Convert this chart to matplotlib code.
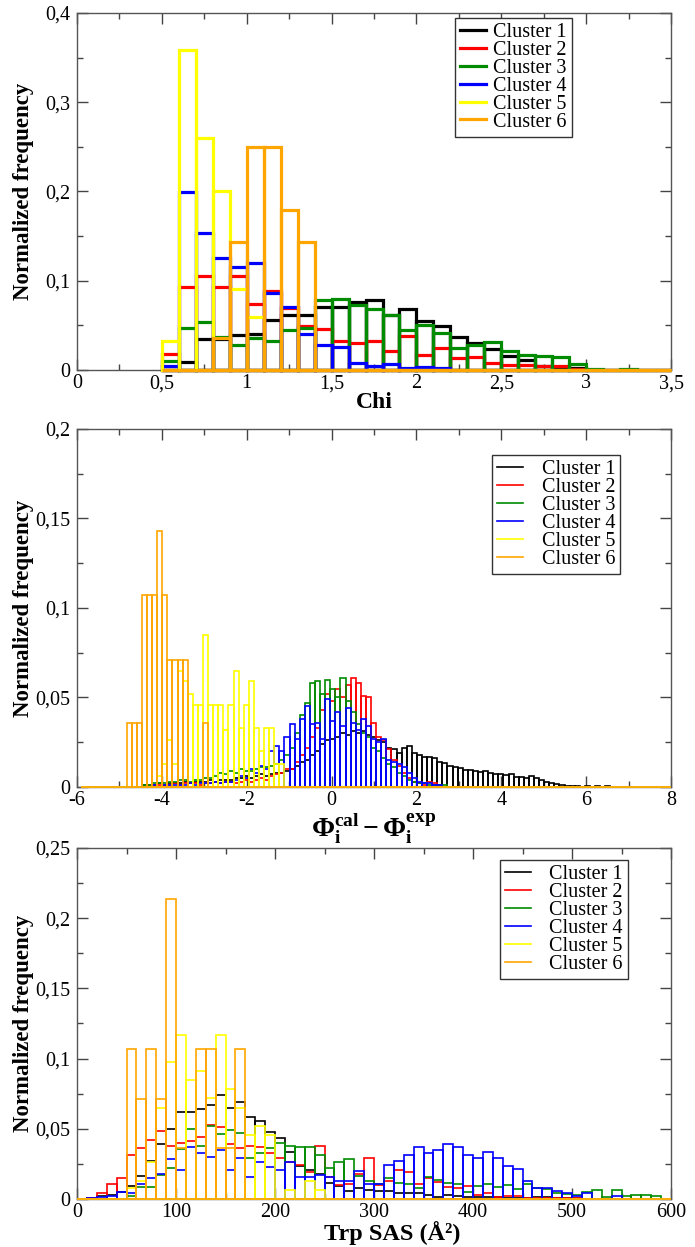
import numpy as np
import matplotlib.pyplot as plt
from matplotlib.ticker import MultipleLocator, FuncFormatter

plt.rcParams['font.family'] = ['Liberation Serif', 'DejaVu Serif']
plt.rcParams['mathtext.fontset'] = 'custom'
plt.rcParams['mathtext.rm'] = 'Liberation Serif'
plt.rcParams['mathtext.it'] = 'Liberation Serif:italic'
plt.rcParams['mathtext.bf'] = 'Liberation Serif:bold'

# -------------------------------------------------------
# Data (normalized frequency per bin)
# -------------------------------------------------------
cluster_names = ["Cluster 1", "Cluster 2", "Cluster 3", "Cluster 4", "Cluster 5", "Cluster 6"]
cluster_colors = ["#000000", "#ff0000", "#008b00", "#0000ff", "#ffff00", "#ffa500"]

# Panel 1: Chi, bins of 0.1 from 0.5 to 3.5
chi_start, chi_width = 0.5, 0.1
chi_c1 = [0.0, 0.009, 0.035, 0.035, 0.039, 0.040, 0.056, 0.062, 0.062, 0.071,
          0.071, 0.076, 0.078, 0.062, 0.068, 0.055, 0.049, 0.037, 0.030, 0.024,
          0.016, 0.011, 0.004, 0.003, 0.002, 0.0, 0.0, 0.0, 0.0, 0.0]
chi_c2 = [0.018, 0.093, 0.105, 0.093, 0.105, 0.074, 0.088, 0.070, 0.049, 0.046,
          0.033, 0.030, 0.033, 0.021, 0.038, 0.017, 0.025, 0.013, 0.015, 0.008,
          0.006, 0.006, 0.004, 0.004, 0.001, 0.0, 0.0, 0.0, 0.0, 0.0]
chi_c3 = [0.010, 0.047, 0.054, 0.037, 0.028, 0.036, 0.033, 0.045, 0.047, 0.078,
          0.079, 0.073, 0.068, 0.062, 0.045, 0.050, 0.041, 0.025, 0.028, 0.031,
          0.021, 0.017, 0.016, 0.015, 0.007, 0.001, 0.0, 0.001, 0.0, 0.0]
chi_c4 = [0.005, 0.199, 0.154, 0.125, 0.115, 0.120, 0.086, 0.071, 0.040, 0.028,
          0.026, 0.008, 0.005, 0.007, 0.002, 0.003, 0.002, 0.0, 0.0, 0.0,
          0.0, 0.0, 0.0, 0.0, 0.0, 0.0, 0.0, 0.0, 0.0, 0.0]
chi_c5 = [0.033, 0.358, 0.260, 0.201, 0.091, 0.059, 0.0, 0.0, 0.0, 0.0,
          0.0, 0.0, 0.0, 0.0, 0.0, 0.0, 0.0, 0.0, 0.0, 0.0,
          0.0, 0.0, 0.0, 0.0, 0.0, 0.0, 0.0, 0.0, 0.0, 0.0]
chi_c6 = [0.0, 0.0, 0.0, 0.036, 0.143, 0.250, 0.250, 0.179, 0.143, 0.0,
          0.0, 0.0, 0.0, 0.0, 0.0, 0.0, 0.0, 0.0, 0.0, 0.0,
          0.0, 0.0, 0.0, 0.0, 0.0, 0.0, 0.0, 0.0, 0.0, 0.0]

# Panel 2: Phi_cal - Phi_exp, bins of 0.12 starting at -4.83 (zero bins padded to the axis range)
phi_start, phi_width = -4.83, 0.12
phi_pad_left, phi_nbins = 9, 116
phi_c1 = [0, 0, 0, 0.001, 0.001, 0.001, 0.002, 0.001, 0.002, 0.002,
          0.002, 0.003, 0.002, 0.003, 0.003, 0.003, 0.004, 0.003, 0.004, 0.004,
          0.004, 0.005, 0.005, 0.006, 0.005, 0.006, 0.007, 0.006, 0.007, 0.008,
          0.008, 0.009, 0.010, 0.012, 0.014, 0.015, 0.018, 0.020, 0.024, 0.026,
          0.027, 0.028, 0.030, 0.029, 0.031, 0.030, 0.031, 0.029, 0.028, 0.026,
          0.025, 0.022, 0.021, 0.019, 0.0215, 0.023, 0.019, 0.018, 0.017, 0.0165,
          0.016, 0.014, 0.0132, 0.012, 0.011, 0.0105, 0.0095, 0.0095, 0.009, 0.0085,
          0.0088, 0.0077, 0.0073, 0.0075, 0.0068, 0.007, 0.0055, 0.0055, 0.0052, 0.006,
          0.005, 0.004, 0.0027, 0.0023, 0.0015, 0.0012, 0.0008, 0.0005, 0.0004, 0.0,
          0.0008, 0.0, 0.0005, 0.0, 0.0005]
phi_c2 = [0, 0, 0, 0, 0.001, 0.001, 0.001, 0.001, 0.001, 0.002,
          0.001, 0.002, 0.002, 0.002, 0.001, 0.002, 0.002, 0.003, 0.002, 0.003,
          0.003, 0.002, 0.003, 0.004, 0.003, 0.004, 0.005, 0.004, 0.006, 0.007,
          0.008, 0.010, 0.010, 0.014, 0.018, 0.022, 0.028, 0.033, 0.043, 0.052,
          0.048, 0.055, 0.050, 0.057, 0.061, 0.058, 0.051, 0.050, 0.036, 0.028,
          0.026, 0.021, 0.015, 0.012, 0.008, 0.005, 0.003, 0.002, 0.001, 0.003,
          0.002, 0.001]
phi_c3 = [0, 0, 0, 0.001, 0.001, 0.002, 0.002, 0.002, 0.003, 0.003,
          0.004, 0.004, 0.003, 0.004, 0.004, 0.005, 0.005, 0.006, 0.008, 0.007,
          0.009, 0.008, 0.010, 0.009, 0.009, 0.010, 0.011, 0.011, 0.012, 0.013,
          0.015, 0.018, 0.022, 0.030, 0.040, 0.047, 0.058, 0.059, 0.052, 0.060,
          0.055, 0.050, 0.061, 0.048, 0.042, 0.035, 0.030, 0.028, 0.022, 0.020,
          0.016, 0.013, 0.011, 0.008, 0.006, 0.004, 0.003, 0.002, 0.002, 0.001,
          0.001, 0.001, 0.001]
phi_c4 = [0, 0, 0, 0, 0, 0.001, 0, 0.001, 0.001, 0.001,
          0.001, 0.001, 0.002, 0.001, 0.002, 0.002, 0.002, 0.003, 0.002, 0.003,
          0.003, 0.004, 0.006, 0.005, 0.010, 0.008, 0.012, 0.010, 0.020, 0.023,
          0.020, 0.028, 0.035, 0.027, 0.038, 0.045, 0.035, 0.036, 0.027, 0.049,
          0.037, 0.042, 0.034, 0.044, 0.036, 0.032, 0.038, 0.034, 0.027, 0.025,
          0.027, 0.015, 0.014, 0.013, 0.011, 0.008, 0.005, 0.003, 0.002, 0.002,
          0.001, 0.001]
phi_c5 = [0, 0, 0, 0, 0, 0, 0.006, 0.013, 0.026, 0.013,
          0.065, 0.059, 0.052, 0.046, 0.046, 0.085, 0.046, 0.046, 0.046, 0.032,
          0.046, 0.065, 0.033, 0.046, 0.059, 0.033, 0.020, 0.033, 0.033, 0.013,
          0.013]
phi_c6 = [0.036, 0.036, 0.036, 0.107, 0.107, 0.107, 0.143, 0.107, 0.071, 0.071,
          0.071, 0.071, 0, 0, 0, 0.036]

# Panel 3: Trp SAS, bins of 10 from 0 to 600
sas_start, sas_width = 0, 10
sas_c1 = [0.0003, 0.0005, 0.0024, 0.003, 0.005, 0.0095, 0.0167, 0.027, 0.039, 0.0498,
          0.0617, 0.0617, 0.0643, 0.0667, 0.0738, 0.0648, 0.069, 0.0583, 0.0552, 0.0476,
          0.0436, 0.0338, 0.0236, 0.0207, 0.0176, 0.0117, 0.0093, 0.0057, 0.0076, 0.0064,
          0.0057, 0.006, 0.004, 0.004, 0.004, 0.0029, 0.0017, 0.0029, 0.002, 0.0015,
          0.0017, 0.0015, 0.0012, 0.001, 0.001, 0.001, 0.0012, 0.0015, 0.001, 0.001,
          0.0005, 0.0003, 0, 0, 0, 0, 0, 0, 0, 0]
sas_c2 = [0, 0.0005, 0.004, 0.011, 0.0148, 0.031, 0.036, 0.0417, 0.0486, 0.038,
          0.040, 0.041, 0.0445, 0.053, 0.051, 0.039, 0.036, 0.038, 0.037, 0.033,
          0.029, 0.026, 0.024, 0.019, 0.038, 0.016, 0.010, 0.011, 0.018, 0.0295,
          0.010, 0.013, 0.021, 0.0195, 0.0107, 0.0148, 0.0124, 0.0083, 0.0076, 0.0095,
          0.003, 0.0045, 0.0017, 0.002, 0.002, 0.001, 0.001, 0.001, 0.001, 0.001,
          0.0005, 0, 0, 0, 0, 0, 0, 0, 0, 0]
sas_c3 = [0, 0, 0, 0, 0, 0.002, 0.0088, 0.0088, 0.017, 0.0224,
          0.0355, 0.050, 0.038, 0.052, 0.0464, 0.049, 0.0467, 0.029, 0.0326, 0.036,
          0.0398, 0.038, 0.037, 0.037, 0.031, 0.0224, 0.026, 0.0288, 0.0167, 0.013,
          0.011, 0.015, 0.0117, 0.0107, 0.008, 0.0155, 0.0136, 0.0117, 0.011, 0.005,
          0.0095, 0.011, 0.0083, 0.0098, 0.007, 0.011, 0.0076, 0.007, 0.004, 0.0036,
          0.0029, 0.005, 0.0064, 0.0017, 0.0064, 0.002, 0.0026, 0.0026, 0.002, 0]
sas_c4 = [0, 0.0005, 0.0017, 0.002, 0.005, 0.004, 0.0107, 0.0148, 0.0176, 0.0286,
          0.0207, 0.037, 0.0326, 0.030, 0.035, 0.0207, 0.0295, 0.016, 0.026, 0.023,
          0.0207, 0.0267, 0.0155, 0.016, 0.017, 0.016, 0.013, 0.013, 0.020, 0.0105,
          0.011, 0.0243, 0.027, 0.031, 0.0367, 0.0324, 0.0352, 0.0393, 0.0367, 0.031,
          0.0295, 0.0338, 0.029, 0.0238, 0.0214, 0.0129, 0.0076, 0.0076, 0.0057, 0.004,
          0.002, 0.0045, 0, 0, 0.002, 0, 0, 0, 0, 0]
sas_c5 = [0, 0, 0, 0, 0, 0.0076, 0.013, 0.0267, 0.065, 0.0976,
          0.1167, 0.0845, 0.0914, 0.0717, 0.1167, 0.0786, 0.065, 0.0457, 0.052, 0.0457,
          0, 0.0065, 0, 0.013, 0.0065]
sas_c6 = [0, 0, 0, 0, 0, 0.107, 0.071, 0.107, 0.071, 0.214,
          0.036, 0, 0.107, 0.107, 0.036, 0.036, 0.107]
sas_nbins = 60


# -------------------------------------------------------
# Helpers
# -------------------------------------------------------
def pad(values, n_left, n_total):
    values = np.asarray(values, dtype=float)
    return np.concatenate([np.zeros(n_left), values, np.zeros(n_total - n_left - len(values))])


def comma_fmt(v, pos):
    s = "%g" % round(v, 4)
    return s.replace(".", ",")


def style_axis(ax, xlim, ylim, xmaj, xmin, ymaj, ymin):
    ax.set_xlim(*xlim)
    ax.set_ylim(*ylim)
    ax.xaxis.set_major_locator(MultipleLocator(xmaj))
    ax.xaxis.set_minor_locator(MultipleLocator(xmin))
    ax.yaxis.set_major_locator(MultipleLocator(ymaj))
    ax.yaxis.set_minor_locator(MultipleLocator(ymin))
    ax.xaxis.set_major_formatter(FuncFormatter(comma_fmt))
    ax.yaxis.set_major_formatter(FuncFormatter(comma_fmt))
    ax.tick_params(which="both", direction="in", top=True, right=True,
                   color="#444444", width=1.0, labelsize=14.5)
    ax.tick_params(which="major", length=8)
    ax.tick_params(which="minor", length=4)
    ax.tick_params(axis="x", pad=3)
    ax.tick_params(axis="y", pad=5)
    for sp in ax.spines.values():
        sp.set_color("#555555")
        sp.set_linewidth(1.0)
    ax.set_ylabel("Normalized frequency", fontsize=16.5, fontweight="bold")
    ax.yaxis.set_label_coords(-0.073, 0.5)


def draw_hists(ax, left_edges, width, series, lw):
    handles = []
    for vals, color, name in zip(series, cluster_colors, cluster_names):
        ax.bar(left_edges, vals, width=width, align="edge", fill=False,
               edgecolor=color, linewidth=lw, clip_on=False, zorder=3)
        h, = ax.plot([], [], color=color, linewidth=lw, label=name)
        handles.append(h)
    return handles


def add_legend(ax, handles, x, y, textpad):
    leg = ax.legend(handles=handles, loc="upper left", bbox_to_anchor=(x, y),
                    fontsize=14.5, frameon=True, fancybox=False, framealpha=1,
                    edgecolor="#333333", borderpad=0.25, labelspacing=-0.06,
                    handlelength=1.3, handletextpad=textpad, borderaxespad=0)
    leg.get_frame().set_linewidth(1.0)


# -------------------------------------------------------
# Figure
# -------------------------------------------------------
fig = plt.figure(figsize=(6.95, 12.47), dpi=100)

ax1 = fig.add_axes([0.1108, 0.7033, 0.8547, 0.2863])
ax2 = fig.add_axes([0.1108, 0.3689, 0.8547, 0.2871])
ax3 = fig.add_axes([0.1108, 0.0385, 0.8547, 0.2815])

# Panel 1
chi_edges = chi_start + chi_width * np.arange(len(chi_c1))
h1 = draw_hists(ax1, chi_edges, chi_width, [chi_c1, chi_c2, chi_c3, chi_c4, chi_c5, chi_c6], 2.3)
style_axis(ax1, (0, 3.5), (0, 0.4), 0.5, 0.25, 0.1, 0.05)
ax1.set_xlabel("Chi", fontsize=17, fontweight="bold", labelpad=-1)
add_legend(ax1, h1, 0.636, 0.986, 0.35)

# Panel 2
phi_edges = phi_start + phi_width * (np.arange(phi_nbins) - phi_pad_left)
phi_series = [pad(v, phi_pad_left, phi_nbins) for v in [phi_c1, phi_c2, phi_c3, phi_c4, phi_c5, phi_c6]]
h2 = draw_hists(ax2, phi_edges, phi_width, phi_series, 1.2)
style_axis(ax2, (-6, 8), (0, 0.2), 2, 1, 0.05, 0.025)
ax2.set_xlabel(r"$\mathbf{\Phi_i^{cal} - \Phi_i^{exp}}$", fontsize=20, labelpad=1)
add_legend(ax2, h2, 0.699, 0.927, 0.9)

# Panel 3
sas_edges = sas_start + sas_width * np.arange(sas_nbins)
sas_series = [pad(v, 0, sas_nbins) for v in [sas_c1, sas_c2, sas_c3, sas_c4, sas_c5, sas_c6]]
h3 = draw_hists(ax3, sas_edges, sas_width, sas_series, 1.2)
style_axis(ax3, (0, 600), (0, 0.25), 100, 50, 0.05, 0.025)
ax3.set_xlabel("Trp SAS (Å²)", fontsize=17.5, fontweight="bold", labelpad=0)
ax3.xaxis.set_label_coords(0.53, -0.062)
add_legend(ax3, h3, 0.712, 0.965, 0.9)

fig.savefig("out.png", dpi=100)
